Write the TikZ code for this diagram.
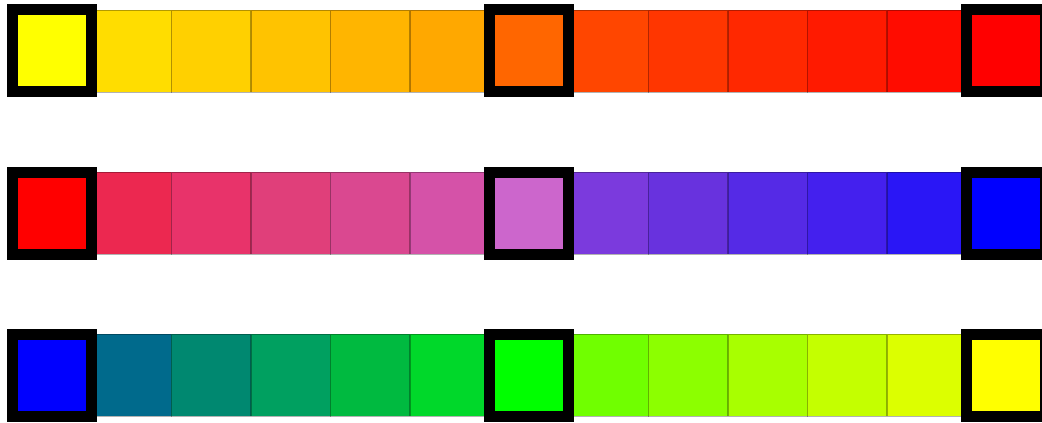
\documentclass[tikz,border=0pt]{standalone}
\usepackage{xcolor}
\usepackage{tikz}

\definecolor{swa0}{HTML}{FFFF00}\definecolor{swa1}{HTML}{FFDD00}\definecolor{swa2}{HTML}{FFD000}
\definecolor{swa3}{HTML}{FFC300}\definecolor{swa4}{HTML}{FFB500}\definecolor{swa5}{HTML}{FFA800}
\definecolor{swa6}{HTML}{FF6600}\definecolor{swa7}{HTML}{FF4600}\definecolor{swa8}{HTML}{FF3600}
\definecolor{swa9}{HTML}{FF2800}\definecolor{swa10}{HTML}{FF1A00}\definecolor{swa11}{HTML}{FF0C00}
\definecolor{swa12}{HTML}{FF0000}
\definecolor{swb0}{HTML}{FF0000}\definecolor{swb1}{HTML}{EC2850}\definecolor{swb2}{HTML}{E8336A}
\definecolor{swb3}{HTML}{E03F7A}\definecolor{swb4}{HTML}{DA4890}\definecolor{swb5}{HTML}{D552A8}
\definecolor{swb6}{HTML}{CC66CC}\definecolor{swb7}{HTML}{7B3ADD}\definecolor{swb8}{HTML}{6832DE}
\definecolor{swb9}{HTML}{552AE6}\definecolor{swb10}{HTML}{4420EE}\definecolor{swb11}{HTML}{2A16F6}
\definecolor{swb12}{HTML}{0000FF}
\definecolor{swc0}{HTML}{0000FF}\definecolor{swc1}{HTML}{006A8C}\definecolor{swc2}{HTML}{008870}
\definecolor{swc3}{HTML}{00A060}\definecolor{swc4}{HTML}{00BA40}\definecolor{swc5}{HTML}{00D82A}
\definecolor{swc6}{HTML}{00FF00}\definecolor{swc7}{HTML}{70FF00}\definecolor{swc8}{HTML}{8CFF00}
\definecolor{swc9}{HTML}{A8FF00}\definecolor{swc10}{HTML}{C4FF00}\definecolor{swc11}{HTML}{DCFF00}
\definecolor{swc12}{HTML}{FFFF00}

\begin{document}
\begin{tikzpicture}[x=0.75pt, y=0.75pt,
  cell/.style={draw=black, draw opacity=0.3, line width=0.4pt, inner sep=0pt, outer sep=0pt,
    minimum width=59.6pt, minimum height=61.5pt},
  keycell/.style={cell, draw opacity=1, line width=8.25pt}]
  \useasboundingbox (0,0) rectangle (1042,422);
  \foreach \r/\y in {a/371, b/209, c/47} {
    \foreach \i in {1,...,5,7,8,...,11} { \node[cell, fill=sw\r\i] (\r\i) at ({52+79.5*\i},\y) {}; }
    \foreach \i in {0,6,12} { \node[keycell, fill=sw\r\i] (\r\i) at ({52+79.5*\i},\y) {}; }
  }
\end{tikzpicture}
\end{document}
